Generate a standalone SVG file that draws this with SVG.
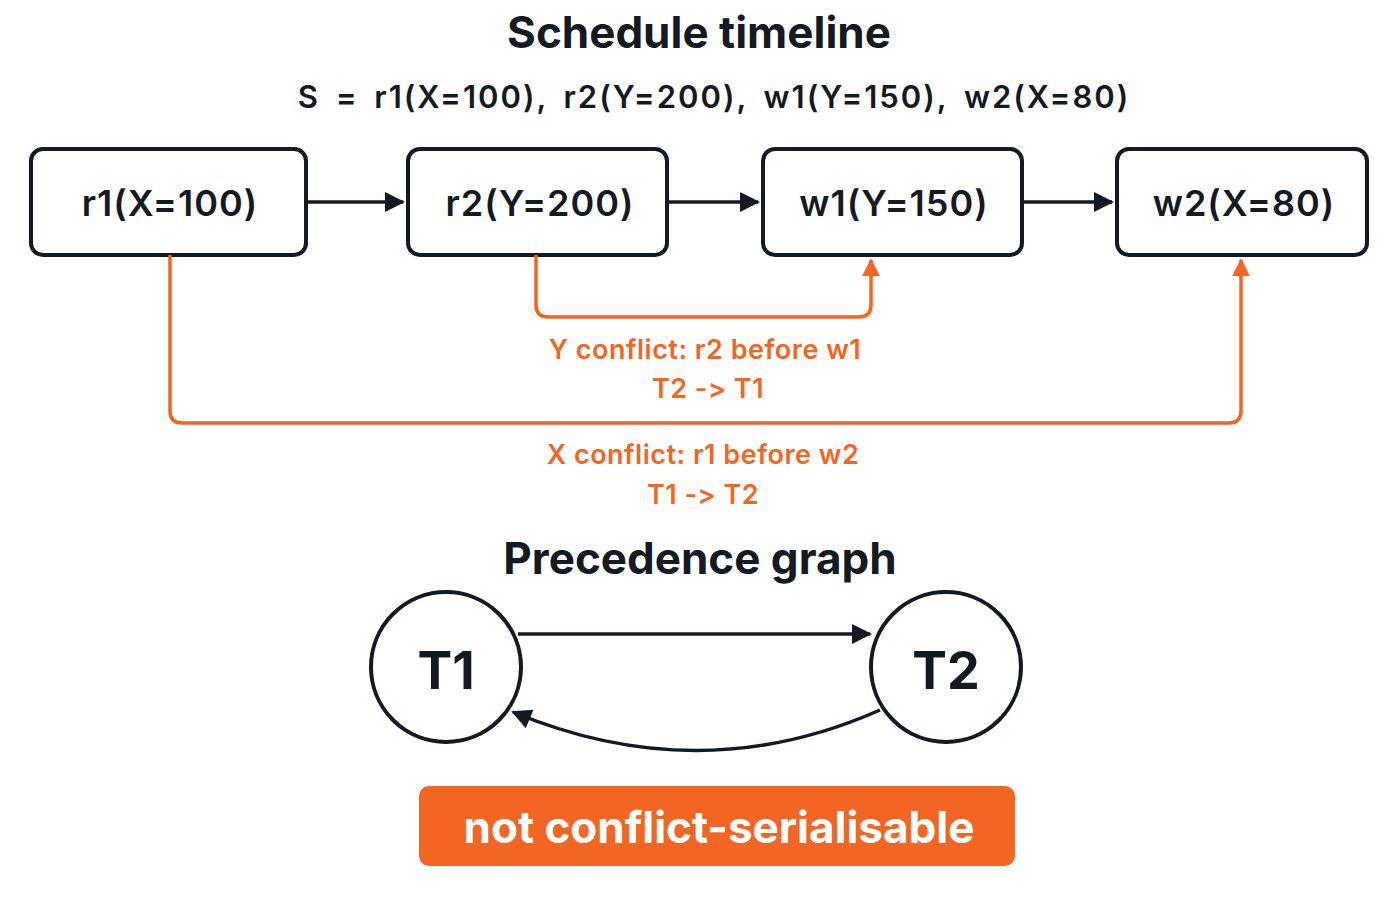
<svg xmlns="http://www.w3.org/2000/svg" width="1400" height="900" viewBox="0 0 1400 900">
<style>
text{font-family:"Inter","Liberation Sans",sans-serif;fill:#141a24;text-anchor:middle;dominant-baseline:central;font-variant-ligatures:none;font-feature-settings:"calt" 0,"liga" 0}
.title{font-size:44px;font-weight:700}
.sub{font-size:31px;font-weight:600;letter-spacing:2px;word-spacing:6px}
.box{fill:#fff;stroke:#141a24;stroke-width:4}
.lbl{font-size:36px;font-weight:600;letter-spacing:1px}
.ol{font-size:27px;font-weight:600;fill:#f26522;letter-spacing:0.5px}
.k{stroke:#141a24;stroke-width:3.5;fill:none}
.o{stroke:#f26522;stroke-width:3.5;fill:none}
.big{font-size:52px;font-weight:700}
</style>
<defs>
<marker id="ak" viewBox="0 0 10 10" refX="9" refY="5" markerWidth="22" markerHeight="20" markerUnits="userSpaceOnUse" orient="auto"><path d="M0,0 L10,5 L0,10 z" fill="#141a24"/></marker>
<marker id="ao" viewBox="0 0 10 10" refX="9" refY="5" markerWidth="18" markerHeight="18" markerUnits="userSpaceOnUse" orient="auto"><path d="M0,0 L10,5 L0,10 z" fill="#f26522"/></marker>
</defs>
<rect width="1400" height="900" fill="#fff"/>
<text class="title" x="699" y="32">Schedule timeline</text>
<text class="sub" x="714" y="96">S = r1(X=100), r2(Y=200), w1(Y=150), w2(X=80)</text>
<g id="r1"><rect class="box" x="31" y="149" width="275" height="106" rx="12"/><text class="lbl" x="170" y="203">r1(X=100)</text></g>
<g id="r2"><rect class="box" x="408" y="149" width="259" height="106" rx="12"/><text class="lbl" x="540" y="203">r2(Y=200)</text></g>
<g id="w1"><rect class="box" x="763" y="149" width="259" height="106" rx="12"/><text class="lbl" x="894" y="203">w1(Y=150)</text></g>
<g id="w2"><rect class="box" x="1117" y="149" width="250" height="106" rx="12"/><text class="lbl" x="1244" y="203">w2(X=80)</text></g>
<g id="T1"><circle cx="446" cy="667" r="75" fill="#fff" stroke="#141a24" stroke-width="4"/><text class="big" x="446" y="670">T1</text></g>
<g id="T2"><circle cx="946" cy="667" r="75" fill="#fff" stroke="#141a24" stroke-width="4"/><text class="big" x="946" y="670">T2</text></g>
<g id="connectors">
<line class="k" x1="306" y1="202" x2="403" y2="202" marker-end="url(#ak)"/>
<line class="k" x1="667" y1="202" x2="758" y2="202" marker-end="url(#ak)"/>
<line class="k" x1="1022" y1="202" x2="1112" y2="202" marker-end="url(#ak)"/>
<path class="o" d="M536,255 V305 Q536,317 548,317 H859 Q871,317 871,305 V260" marker-end="url(#ao)"/>
<path class="o" d="M170,255 V411 Q170,423 182,423 H1229 Q1241,423 1241,411 V260" marker-end="url(#ao)"/>
<line class="k" x1="518" y1="634" x2="870" y2="634" marker-end="url(#ak)"/>
<path class="k" d="M880,710 Q700,790 513,712" marker-end="url(#ak)"/>
</g>
<text class="ol" x="705" y="349">Y conflict: r2 before w1</text>
<text class="ol" x="708" y="388">T2 -&gt; T1</text>
<text class="ol" x="703" y="454">X conflict: r1 before w2</text>
<text class="ol" x="703" y="494">T1 -&gt; T2</text>
<text class="title" x="700" y="558">Precedence graph</text>
<g id="verdict"><rect x="419" y="786" width="596" height="80" rx="10" fill="#f26522"/><text class="title" x="719" y="827" style="fill:#fff">not conflict-serialisable</text></g>
</svg>
